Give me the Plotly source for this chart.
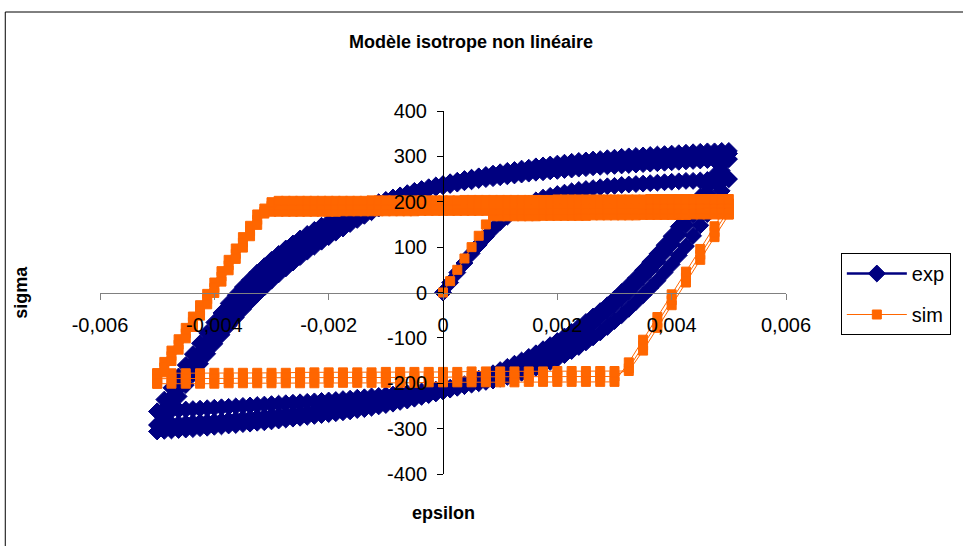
import plotly.graph_objects as go

# ---------------------------------------------------------------------------
# Strain grids (stored in microstrain, converted to strain below)
# ---------------------------------------------------------------------------
EPS_INIT_UE = [0, 125, 250, 375, 500, 625, 750, 875, 1000, 1125, 1250, 1375, 1500, 1625,
               1750, 1875, 2000, 2125, 2250, 2375, 2500, 2625, 2750, 2875, 3000, 3125,
               3250, 3375, 3500, 3625, 3750, 3875, 4000, 4125, 4250, 4375, 4500, 4625,
               4750, 4875, 5000]

EPS_UP_UE = [-5000, -4875, -4750, -4625, -4500, -4375, -4250, -4125, -4000, -3875, -3750,
             -3625, -3500, -3375, -3250, -3125, -3000, -2875, -2750, -2625, -2500, -2375,
             -2250, -2125, -2000, -1875, -1750, -1625, -1500, -1375, -1250, -1125, -1000,
             -875, -750, -625, -500, -375, -250, -125, 0, 125, 250, 375, 500, 625, 750,
             875, 1000, 1125, 1250, 1375, 1500, 1625, 1750, 1875, 2000, 2125, 2250, 2375,
             2500, 2625, 2750, 2875, 3000, 3125, 3250, 3375, 3500, 3625, 3750, 3875, 4000,
             4125, 4250, 4375, 4500, 4625, 4750, 4875, 5000]

EPS_DOWN_UE = [5000, 4875, 4750, 4625, 4500, 4375, 4250, 4125, 4000, 3875, 3750, 3625, 3500,
               3375, 3250, 3125, 3000, 2875, 2750, 2625, 2500, 2375, 2250, 2125, 2000, 1875,
               1750, 1625, 1500, 1375, 1250, 1125, 1000, 875, 750, 625, 500, 375, 250, 125,
               0, -125, -250, -375, -500, -625, -750, -875, -1000, -1125, -1250, -1375,
               -1500, -1625, -1750, -1875, -2000, -2125, -2250, -2375, -2500, -2625, -2750,
               -2875, -3000, -3125, -3250, -3375, -3500, -3625, -3750, -3875, -4000, -4125,
               -4250, -4375, -4500, -4625, -4750, -4875, -5000]

# coarser grid used by the simulation on unloading branches
SIM_EPS_DOWN_UE = [5000, 4750, 4500, 4250, 4000, 3750, 3500, 3250, 3000, 2750, 2500, 2250,
                   2000, 1750, 1500, 1250, 1000, 750, 500, 250, 0, -250, -500, -750, -1000,
                   -1250, -1500, -1750, -2000, -2250, -2500, -2750, -3000, -3250, -3500,
                   -3750, -4000, -4250, -4500, -4750, -5000]

# ---------------------------------------------------------------------------
# Measured stress (MPa): first loading, then three full cycles
# ---------------------------------------------------------------------------
EXP_INIT = [0, 22, 44, 65, 86, 105, 123, 140, 155, 167, 178, 188, 196, 203, 209, 213, 217,
            220, 223, 226, 228, 230, 232, 234, 235, 237, 238, 239, 240, 241, 242, 243, 244,
            245, 246, 246, 247, 248, 249, 249, 250]
EXP_D1 = [250, 224, 198, 173, 148, 125, 102, 82, 62, 44, 26, 10, -6, -21, -36, -50, -63, -76,
          -88, -99, -110, -120, -129, -138, -146, -153, -160, -166, -172, -177, -182, -186,
          -190, -194, -197, -200, -203, -206, -208, -210, -212, -214, -216, -218, -220, -222,
          -223, -225, -226, -228, -229, -231, -232, -234, -235, -237, -238, -239, -240, -241,
          -242, -243, -244, -245, -246, -247, -248, -249, -250, -251, -252, -253, -254, -255,
          -256, -257, -258, -259, -260, -261, -262]
EXP_U1 = [-262, -236, -210, -185, -160, -136, -112, -89, -66, -45, -24, -6, 12, 28, 44, 58, 72,
          85, 97, 108, 119, 129, 138, 147, 155, 163, 170, 177, 183, 189, 194, 199, 204, 209,
          213, 217, 221, 225, 228, 231, 234, 237, 240, 243, 245, 248, 250, 252, 254, 256, 258,
          260, 262, 264, 265, 267, 268, 270, 271, 273, 274, 276, 277, 278, 279, 280, 281, 282,
          283, 284, 285, 286, 287, 288, 289, 290, 291, 292, 292, 293, 294]
EXP_D2 = [294, 269, 244, 219, 195, 172, 149, 128, 107, 88, 69, 51, 34, 18, 2, -13, -27, -41,
          -54, -66, -78, -89, -100, -110, -120, -129, -138, -146, -154, -161, -168, -174, -180,
          -186, -191, -196, -201, -206, -210, -214, -218, -222, -225, -228, -231, -234, -237,
          -240, -242, -245, -247, -249, -251, -253, -255, -257, -259, -261, -263, -265, -266,
          -268, -269, -271, -272, -274, -275, -277, -278, -280, -281, -283, -284, -285, -286,
          -287, -288, -289, -290, -291, -292]
EXP_U2 = [-292, -264, -237, -210, -184, -159, -135, -113, -91, -71, -51, -33, -15, 2, 18, 33,
          48, 62, 76, 89, 101, 112, 123, 133, 143, 152, 161, 169, 177, 184, 191, 197, 203, 209,
          214, 219, 224, 228, 232, 236, 239, 243, 246, 249, 252, 255, 257, 260, 262, 264, 266,
          268, 270, 272, 274, 276, 278, 280, 281, 283, 284, 286, 287, 289, 290, 291, 292, 294,
          295, 296, 297, 298, 299, 300, 301, 302, 303, 304, 304, 305, 306]
EXP_D3 = [306, 282, 258, 234, 211, 188, 166, 145, 124, 104, 85, 67, 49, 32, 16, 1, -14, -28,
          -41, -53, -65, -76, -87, -97, -107, -116, -125, -134, -142, -150, -157, -164, -171,
          -178, -184, -190, -196, -202, -207, -212, -217, -222, -226, -230, -234, -238, -241,
          -245, -248, -251, -254, -257, -259, -262, -264, -266, -268, -270, -272, -274, -276,
          -278, -280, -282, -284, -286, -287, -289, -290, -292, -293, -295, -296, -298, -299,
          -301, -302, -303, -304, -305, -306]
EXP_U3 = [-306, -280, -254, -229, -204, -180, -157, -135, -113, -93, -73, -55, -37, -20, -4, 11,
          26, 40, 53, 66, 78, 90, 101, 112, 122, 132, 141, 151, 160, 169, 177, 185, 192, 199,
          206, 212, 218, 224, 229, 234, 238, 242, 246, 250, 253, 256, 259, 262, 265, 268, 270,
          273, 275, 278, 280, 282, 284, 286, 288, 290, 291, 293, 294, 296, 297, 299, 300, 301,
          302, 303, 304, 305, 306, 307, 308, 309, 310, 311, 311, 312, 312]

# ---------------------------------------------------------------------------
# Simulated stress (MPa), non-linear isotropic hardening model
# ---------------------------------------------------------------------------
SIM_INIT = [0, 25, 50, 75, 100, 125, 150, 168,
            168, 168, 168, 168, 168, 168,
            169, 169, 169, 169, 169, 169, 169,
            170, 170, 170, 170, 170, 170, 170,
            171, 171, 171, 171, 171, 171, 171,
            172, 172, 172, 172, 172, 172]
SIM_D1 = [172, 122, 72, 22, -28, -78, -128, -173,
          -173, -173, -173, -173, -173,
          -174, -174, -174, -174, -174, -174,
          -175, -175, -175, -175, -175, -175,
          -176, -176, -176, -176, -176, -176,
          -177, -177, -177, -177, -177, -177,
          -178, -178, -178, -178]
SIM_U1 = [-178, -153, -128, -103, -78, -53, -28, -3, 22, 47, 72, 97, 122, 147, 172,
          178, 178, 178, 178, 178, 178, 178, 178, 178, 178, 178,
          179, 179, 179, 179, 179, 179, 179, 179, 179, 179, 179,
          180, 180, 180, 180, 180, 180, 180, 180, 180, 180, 180,
          181, 181, 181, 181, 181, 181, 181, 181, 181, 181, 181,
          182, 182, 182, 182, 182, 182, 182, 182, 182, 182, 182,
          183, 183, 183, 183, 183, 183, 183, 183, 183, 183, 183]
SIM_D2 = [183, 133, 83, 33, -17, -67, -117, -167,
          -185, -185, -185, -185, -185,
          -186, -186, -186, -186, -186, -186, -186,
          -187, -187, -187, -187, -187, -187, -187,
          -188, -188, -188, -188, -188, -188, -188,
          -189, -189, -189, -189, -189,
          -190, -190]
SIM_U2 = [-190, -165, -140, -115, -90, -65, -40, -15, 10, 35, 60, 85, 110, 135, 160, 185,
          191, 191, 191, 191, 191, 191, 191, 191, 191, 191, 191, 191, 191,
          192, 192, 192, 192, 192, 192, 192, 192, 192, 192, 192, 192, 192,
          193, 193, 193, 193, 193, 193, 193, 193, 193, 193, 193, 193, 193,
          194, 194, 194, 194, 194, 194, 194, 194, 194, 194, 194, 194, 194,
          195, 195, 195, 195, 195, 195, 195, 195, 195,
          196, 196, 196, 196]
SIM_D3 = [196, 146, 96, 46, -4, -54, -104, -154,
          -197, -197, -197, -197, -197, -197, -197,
          -198, -198, -198, -198, -198, -198, -198,
          -199, -199, -199, -199, -199, -199, -199,
          -200, -200, -200, -200, -200, -200, -200,
          -201, -201, -201, -201, -201]
SIM_U3 = [-201, -176, -151, -126, -101, -76, -51, -26, -1, 24, 49, 74, 99, 124, 149, 174, 199,
          202, 202, 202, 202, 202, 202, 202, 202, 202, 202, 202, 202, 202,
          203, 203, 203, 203, 203, 203, 203, 203, 203, 203, 203, 203, 203,
          204, 204, 204, 204, 204, 204, 204, 204, 204, 204, 204, 204, 204,
          205, 205, 205, 205, 205, 205, 205, 205, 205, 205, 205, 205, 205,
          206, 206, 206, 206, 206, 206, 206, 206, 206, 206, 206, 206]

X_TICKS = [-0.006, -0.004, -0.002, 0, 0.002, 0.004, 0.006]
X_TICK_TEXT = ["-0,006", "-0,004", "-0,002", "0", "0,002", "0,004", "0,006"]
Y_TICKS = [-400, -300, -200, -100, 0, 100, 200, 300, 400]
Y_TICK_TEXT = ["-400", "-300", "-200", "-100", "0", "100", "200", "300", "400"]

TITLE = "Modèle isotrope non linéaire"
FONT = "Arial, 'Liberation Sans', sans-serif"
NAVY = "#000080"
ORANGE = "#FF6600"


def to_strain(values_ue):
    return [v * 1e-6 for v in values_ue]


# Assemble the full loading histories branch by branch
exp_eps = (to_strain(EPS_INIT_UE) + to_strain(EPS_DOWN_UE) + to_strain(EPS_UP_UE)
           + to_strain(EPS_DOWN_UE) + to_strain(EPS_UP_UE)
           + to_strain(EPS_DOWN_UE) + to_strain(EPS_UP_UE))
exp_sig = EXP_INIT + EXP_D1 + EXP_U1 + EXP_D2 + EXP_U2 + EXP_D3 + EXP_U3

sim_eps = (to_strain(EPS_INIT_UE) + to_strain(SIM_EPS_DOWN_UE) + to_strain(EPS_UP_UE)
           + to_strain(SIM_EPS_DOWN_UE) + to_strain(EPS_UP_UE)
           + to_strain(SIM_EPS_DOWN_UE) + to_strain(EPS_UP_UE))
sim_sig = SIM_INIT + SIM_D1 + SIM_U1 + SIM_D2 + SIM_U2 + SIM_D3 + SIM_U3

fig = go.Figure()
fig.add_trace(go.Scatter(
    x=exp_eps, y=exp_sig, name="exp", mode="lines+markers",
    line=dict(color=NAVY, width=2.5),
    marker=dict(symbol="diamond", size=13, color=NAVY, line=dict(color=NAVY, width=1)),
    legendgroup="exp",
))
fig.add_trace(go.Scatter(
    x=sim_eps, y=sim_sig, name="sim", mode="lines+markers",
    line=dict(color=ORANGE, width=1),
    marker=dict(symbol="square", size=9, color=ORANGE, line=dict(color=ORANGE, width=1)),
    legendgroup="sim",
))

W, H = 963, 546
ML, MR, MT, MB = 100, 175, 111, 72
PW, PH = W - ML - MR, H - MT - MB


def px_x(p):
    return (p - ML) / PW


def px_y(p):
    return (H - MB - p) / PH


fig.update_layout(
    width=W, height=H,
    margin=dict(l=ML, r=MR, t=MT, b=MB, pad=0),
    paper_bgcolor="white", plot_bgcolor="white",
    font=dict(family=FONT, size=20, color="black"),
    title=dict(text="<b>" + TITLE + "</b>", x=471 / W, xref="container", xanchor="center",
               y=1 - 42 / H, yref="container", yanchor="middle",
               font=dict(family=FONT, size=18, color="black")),
    showlegend=True,
    legend=dict(x=px_x(843), y=px_y(253), xanchor="left", yanchor="top",
                bordercolor="black", borderwidth=1, bgcolor="white",
                font=dict(family=FONT, size=20, color="black"),
                tracegroupgap=12, traceorder="grouped", itemwidth=60),
    xaxis=dict(range=[-0.006, 0.006], anchor="free", position=0.5,
               showline=True, linecolor="#808080", linewidth=1,
               ticks="outside", ticklen=6, tickcolor="#808080",
               tickvals=X_TICKS, ticktext=X_TICK_TEXT, ticklabelstandoff=8,
               showgrid=False, zeroline=False, fixedrange=True),
    yaxis=dict(range=[-400, 400], anchor="free", position=0.5,
               showline=True, linecolor="black", linewidth=1,
               ticks="outside", ticklen=6, tickcolor="black",
               tickvals=Y_TICKS, ticktext=Y_TICK_TEXT, ticklabelstandoff=6,
               showgrid=False, zeroline=False, fixedrange=True),
    annotations=[
        dict(text="<b>sigma</b>", xref="paper", yref="paper", x=px_x(20), y=0.5,
             xanchor="center", yanchor="middle",
             textangle=-90, showarrow=False, font=dict(family=FONT, size=18, color="black")),
        dict(text="<b>epsilon</b>", xref="paper", yref="paper", x=0.5, y=px_y(513),
             xanchor="center", yanchor="middle",
             showarrow=False, font=dict(family=FONT, size=18, color="black")),
    ],
    shapes=[
        # chart-area frame
        dict(type="rect", xref="paper", yref="paper",
             x0=px_x(5), x1=px_x(975), y0=px_y(560), y1=px_y(12),
             line=dict(color="black", width=1), fillcolor="rgba(0,0,0,0)", layer="below"),
    ],
)

fig.write_html("out.html")
